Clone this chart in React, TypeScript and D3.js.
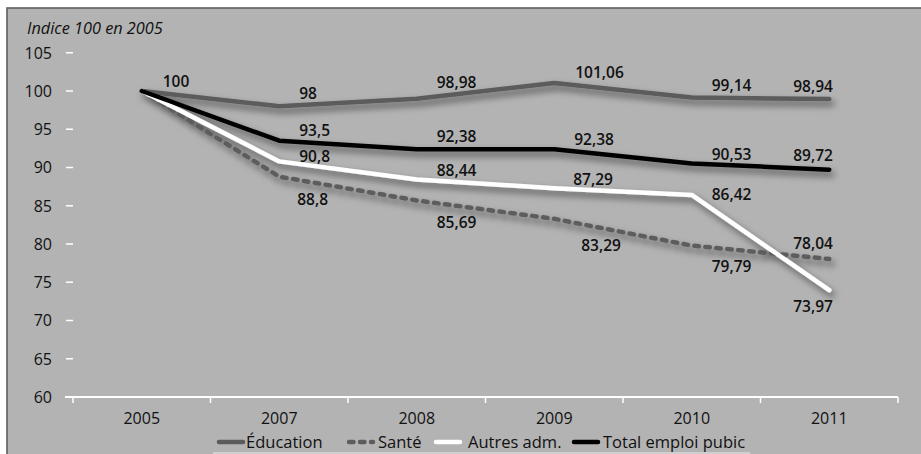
import React, { useEffect, useRef } from "react";
import * as d3 from "d3";

// Years on the horizontal axis
const years = ["2005", "2007", "2008", "2009", "2010", "2011"];

// Index values (base 100 in 2005)
const education = [100, 98, 98.98, 101.06, 99.14, 98.94];
const sante = [100, 88.8, 85.69, 83.29, 79.79, 78.04];
const autres = [100, 90.8, 88.44, 87.29, 86.42, 73.97];
const total = [100, 93.5, 92.38, 92.38, 90.53, 89.72];

const yTicks = [60, 65, 70, 75, 80, 85, 90, 95, 100, 105];

const seriesNames = ["Éducation", "Santé", "Autres adm.", "Total emploi pubic"];

const fmt = (v: number) => String(v).replace(".", ",");

type Series = {
  name: string;
  values: number[];
  color: string;
  dash?: string;
  // which points carry a value label
  labelled: boolean[];
  // label placement relative to its point (left edge, vertical centre)
  ldx: number[];
  ldy: number[];
};

export default function App() {
  const ref = useRef<SVGSVGElement>(null);

  useEffect(() => {
    const svg = d3.select(ref.current);
    svg.selectAll("*").remove();

    const W = 921;
    const H = 454;
    const font = "'Open Sans', 'Noto Sans', sans-serif";

    const x = d3.scaleBand<string>().domain(years).range([73, 898]);
    const cx = (d: string) => (x(d) as number) + x.bandwidth() / 2;
    const y = d3.scaleLinear().domain([60, 105]).range([397, 52.75]);

    const defs = svg.append("defs");
    const f = defs
      .append("filter")
      .attr("id", "shadow")
      .attr("x", "-10%")
      .attr("y", "-10%")
      .attr("width", "130%")
      .attr("height", "140%");
    f.append("feDropShadow")
      .attr("dx", 3)
      .attr("dy", 4.5)
      .attr("stdDeviation", 3.5)
      .attr("flood-color", "#000")
      .attr("flood-opacity", 0.55);

    // page + panel
    svg.append("rect").attr("width", W).attr("height", H).attr("fill", "#ffffff");
    svg
      .append("rect")
      .attr("x", 7)
      .attr("y", 8)
      .attr("width", W)
      .attr("height", H)
      .attr("fill", "#b3b3b3")
      .attr("stroke", "#5e5e5e")
      .attr("stroke-width", 1.6);

    // unit note
    svg
      .append("text")
      .attr("x", 27)
      .attr("y", 34)
      .attr("font-family", font)
      .attr("font-style", "italic")
      .attr("font-size", 16.3)
      .attr("fill", "#111")
      .text("Indice 100 en 2005");

    // y axis: short white ticks and labels
    const yg = svg.append("g");
    yg.selectAll("line")
      .data(yTicks.filter((t) => t > 60))
      .join("line")
      .attr("x1", 66)
      .attr("x2", 73)
      .attr("y1", (d) => y(d))
      .attr("y2", (d) => y(d))
      .attr("stroke", "#ffffff")
      .attr("stroke-width", 1.5);
    yg.selectAll("text")
      .data(yTicks)
      .join("text")
      .attr("x", 52)
      .attr("y", (d) => y(d))
      .attr("dy", "0.36em")
      .attr("text-anchor", "end")
      .attr("font-family", font)
      .attr("font-size", 16)
      .attr("fill", "#111")
      .text((d) => String(d));

    // x axis
    const xg = svg.append("g");
    xg.append("line")
      .attr("x1", 65)
      .attr("x2", 898)
      .attr("y1", y(60))
      .attr("y2", y(60))
      .attr("stroke", "#ffffff")
      .attr("stroke-width", 2);
    const bounds = years.map((d) => x(d) as number).concat([x.range()[1]]);
    xg.selectAll("line.tick")
      .data(bounds)
      .join("line")
      .attr("class", "tick")
      .attr("x1", (d) => d)
      .attr("x2", (d) => d)
      .attr("y1", y(60))
      .attr("y2", y(60) + 6)
      .attr("stroke", "#ffffff")
      .attr("stroke-width", 1.5);
    xg.selectAll("text")
      .data(years)
      .join("text")
      .attr("x", (d) => cx(d))
      .attr("y", 418)
      .attr("dy", "0.36em")
      .attr("text-anchor", "middle")
      .attr("font-family", font)
      .attr("font-size", 16)
      .attr("fill", "#111")
      .text((d) => d);

    const series: Series[] = [
      {
        name: seriesNames[0],
        values: education,
        color: "#5b5b5b",
        labelled: [true, true, true, true, true, true],
        ldx: [21, 20, 20, 21, 20, -36],
        ldy: [-9.5, -13, -16, -10, -12.5, -12.5],
      },
      {
        name: seriesNames[1],
        values: sante,
        color: "#5d5d5d",
        dash: "4.5 6.5",
        labelled: [false, true, true, true, true, true],
        ldx: [0, 18, 20, 27, 20, -36],
        ldy: [0, 22.5, 22, 27, 21, -16],
      },
      {
        name: seriesNames[2],
        values: autres,
        color: "#ffffff",
        labelled: [false, true, true, true, true, true],
        ldx: [0, 20, 20, 19, 20, -36],
        ldy: [0, -5, -9.5, -9, 0, 16],
      },
      {
        name: seriesNames[3],
        values: total,
        color: "#000000",
        labelled: [false, true, true, true, true, true],
        ldx: [0, 20, 20, 20, 20, -36],
        ldy: [0, -10, -12.5, -10, -9.5, -14.5],
      },
    ];

    const line = d3
      .line<number>()
      .x((_, i) => cx(years[i]))
      .y((v) => y(v));

    const lg = svg.append("g").attr("filter", "url(#shadow)");
    series.forEach((s) => {
      lg.append("path")
        .attr("d", line(s.values))
        .attr("fill", "none")
        .attr("stroke", s.color)
        .attr("stroke-width", 4.5)
        .attr("stroke-linejoin", "round")
        .attr("stroke-linecap", "round")
        .attr("stroke-dasharray", s.dash ?? null);
    });

    // value labels
    const tg = svg.append("g");
    series.forEach((s) => {
      s.values.forEach((v, i) => {
        if (!s.labelled[i]) return;
        tg.append("text")
          .attr("x", cx(years[i]) + s.ldx[i])
          .attr("y", y(v) + s.ldy[i])
          .attr("dy", "0.36em")
          .attr("font-family", font)
          .attr("font-size", 15.5)
          .attr("font-weight", 600)
          .attr("fill", "#111")
          .text(fmt(v));
      });
    });

    // legend
    const legendLayout = [
      { sx: 217, tx: 246 },
      { sx: 347, tx: 378 },
      { sx: 434, tx: 468 },
      { sx: 572, tx: 603 },
    ];
    const legY = 442;
    const leg = svg.append("g");
    leg.append("line")
      .attr("x1", 213)
      .attr("x2", 750)
      .attr("y1", 453)
      .attr("y2", 453)
      .attr("stroke", "#d8d8d8")
      .attr("stroke-width", 1.5);
    series.forEach((s, i) => {
      const L = legendLayout[i];
      leg.append("line")
        .attr("x1", L.sx + 2)
        .attr("x2", L.sx + 26)
        .attr("y1", legY)
        .attr("y2", legY)
        .attr("stroke", s.color)
        .attr("stroke-width", 4.5)
        .attr("stroke-linecap", "round")
        .attr("stroke-dasharray", s.dash ?? null);
      leg.append("text")
        .attr("x", L.tx)
        .attr("y", legY)
        .attr("dy", "0.36em")
        .attr("font-family", font)
        .attr("font-size", 16.5)
        .attr("fill", "#111")
        .text(s.name);
    });
  }, []);

  return (
    <svg
      ref={ref}
      width={921}
      height={454}
      style={{ position: "absolute", left: 0, top: 0, display: "block" }}
    />
  );
}
